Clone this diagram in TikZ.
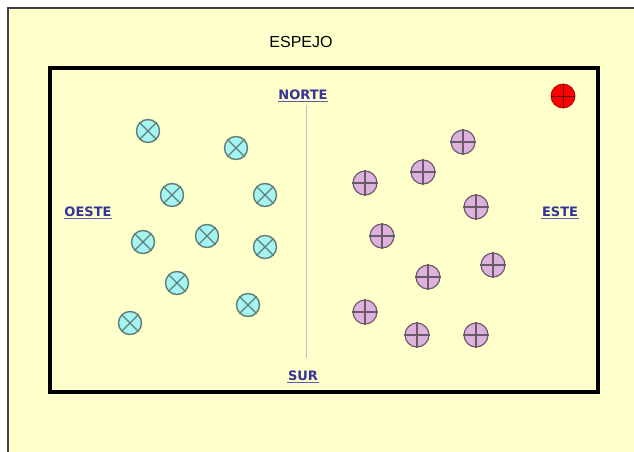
\documentclass[tikz,border=0pt]{standalone}
\usepackage{fontspec}
\setmainfont{Liberation Sans}
\newfontfamily\labelfont{DejaVu Sans}
\definecolor{bgyellow}{HTML}{FFFFCC}
\definecolor{cyanfill}{HTML}{A6F4F2}
\definecolor{cyanline}{HTML}{5E7E78}
\definecolor{pinkfill}{HTML}{DDB2DD}
\definecolor{pinkline}{HTML}{6A5A6A}
\definecolor{labelblue}{HTML}{333399}
\tikzset{
  cyanball/.style={circle,draw=cyanline,fill=cyanfill,line width=1.4pt,minimum size=23pt,inner sep=0pt},
  pinkball/.style={circle,draw=pinkline,fill=pinkfill,line width=1.2pt,minimum size=24pt,inner sep=0pt},
  redball/.style={circle,draw=red!70!black,fill=red,line width=0.8pt,minimum size=24pt,inner sep=0pt},
  dirlabel/.style={font=\labelfont\bfseries\fontsize{13}{15}\selectfont,text=labelblue,inner sep=1.5pt,
    underline},
  underline/.style={append after command={
    (\tikzlastnode.south west) edge[draw=labelblue!80,line width=1.2pt,shorten <=1pt,shorten >=1pt] (\tikzlastnode.south east)}},
}
\begin{document}
\begin{tikzpicture}[x=1pt,y=-1pt]
\useasboundingbox (0,0) rectangle (634,452);
\fill[white] (0,0) rectangle (634,452);
\fill[bgyellow] (8,8) rectangle (640,460);
\draw[black!75,line width=1.5pt] (8,460) -- (8,8) -- (640,8);
\node[font=\fontsize{16}{18}\selectfont] (espejo) at (301,42) {ESPEJO};
\draw[black,line width=4.5pt] (50,68) rectangle (598,392);
\node[dirlabel] (norte) at (303,95) {NORTE};
\node[dirlabel] (sur) at (303,376) {SUR};
\node[dirlabel] (oeste) at (88,212) {OESTE};
\node[dirlabel] (este) at (560,212) {ESTE};
\draw[black!25,line width=1pt] (306,105) coordinate (nt) -- (306,358) coordinate (st);
% cyan balls
\foreach \n/\x/\y in {c1/148/131, c2/236/148, c3/172/195, c4/265/195, c5/143/242, c6/207/236, c7/265/247, c8/177/283, c9/248/305, c10/130/323}{
  \node[cyanball] (\n) at (\x,\y) {};
  \draw[cyanline,line width=1.1pt] (\n.north east) -- (\n.south west) (\n.north west) -- (\n.south east);
}
% pink balls
\foreach \n/\x/\y in {p1/463/142, p2/423/172, p3/365/183, p4/476/207, p5/382/236, p6/493/265, p7/428/277, p8/365/312, p9/417/335, p10/476/335}{
  \node[pinkball] (\n) at (\x,\y) {};
  \draw[pinkline,line width=1.1pt] (\n.north) -- (\n.south) (\n.west) -- (\n.east);
}
\node[redball] (r1) at (563,96) {};
\draw[red!40!black,line width=0.9pt] (r1.north) -- (r1.south) (r1.west) -- (r1.east);
\end{tikzpicture}
\end{document}
